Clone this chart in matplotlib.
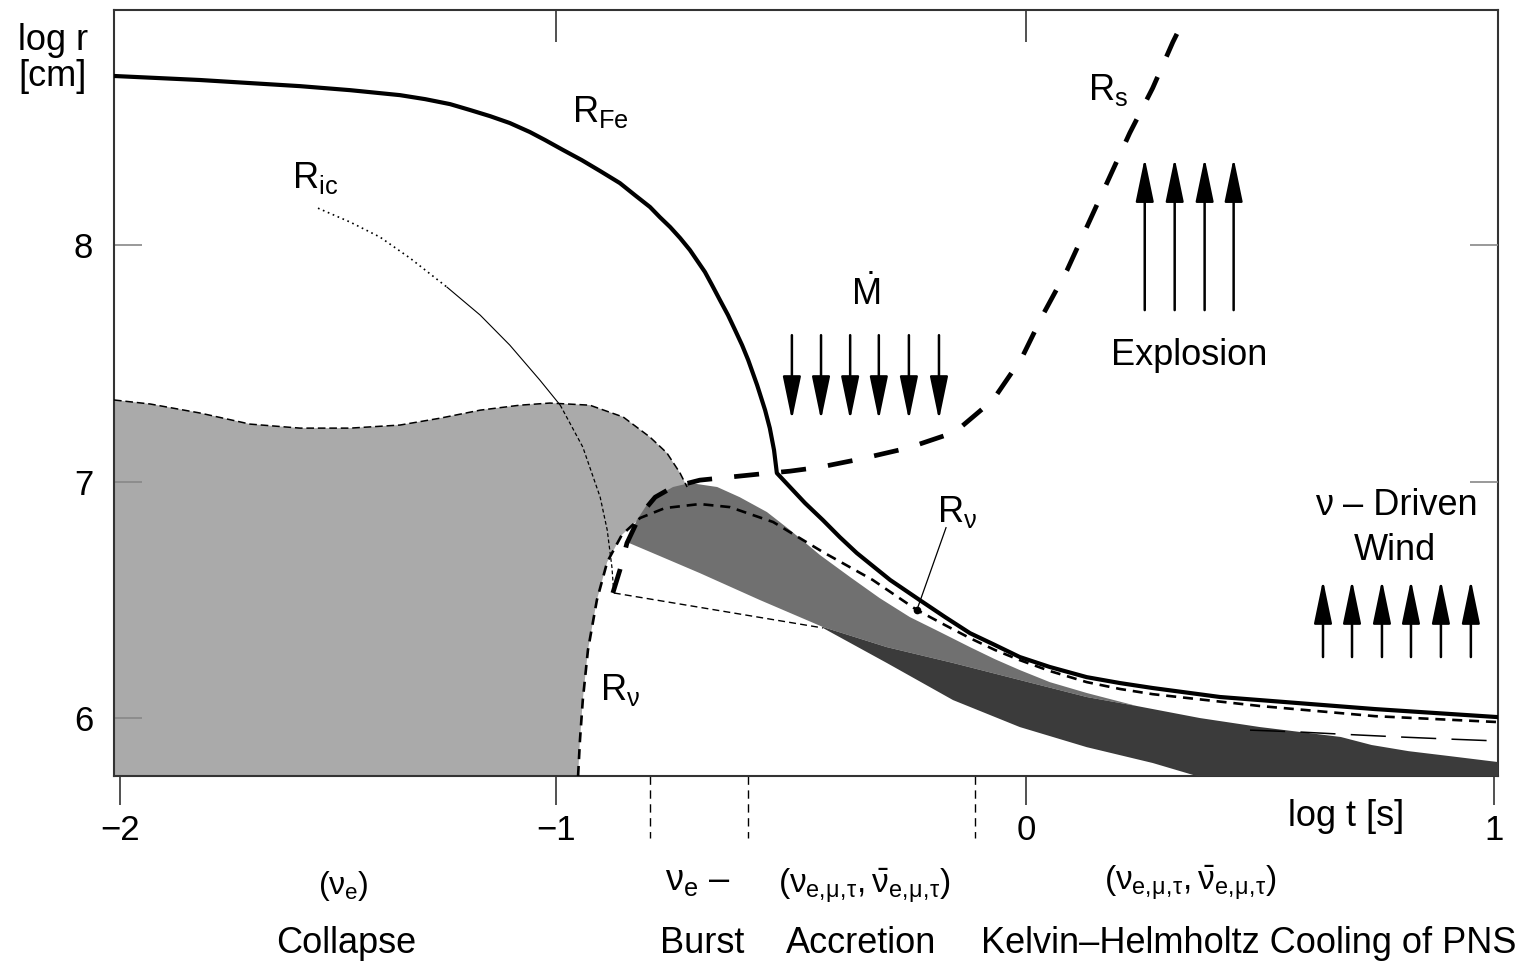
import numpy as np
import matplotlib
matplotlib.use("Agg")
import matplotlib.pyplot as plt
from matplotlib.transforms import blended_transform_factory

plt.rcParams['font.family'] = ['Liberation Sans', 'DejaVu Sans']
plt.rcParams['mathtext.fontset'] = 'custom'
plt.rcParams['mathtext.rm'] = 'Liberation Sans'
plt.rcParams['mathtext.it'] = 'Liberation Sans'
plt.rcParams['mathtext.bf'] = 'Liberation Sans:bold'
plt.rcParams['mathtext.sf'] = 'Liberation Sans'

# ---------------- data (log t [s], log r [cm]) ----------------
# iron core radius R_Fe
rfe_t = [-2.014, -1.817, -1.587, -1.472, -1.358, -1.300, -1.243, -1.197, -1.151, -1.106,
         -1.060, -1.025, -0.985, -0.945, -0.906, -0.864, -0.832, -0.800, -0.779, -0.757,
         -0.736, -0.715, -0.683, -0.668, -0.651, -0.634, -0.619, -0.604, -0.591, -0.572,
         -0.555, -0.545, -0.536, -0.530, -0.496, -0.470, -0.432, -0.396, -0.360, -0.289,
         -0.226, -0.172, -0.119, -0.066, -0.013, 0.051, 0.130, 0.201, 0.271, 0.415,
         0.500, 0.746, 1.009]
rfe_r = [8.715, 8.698, 8.672, 8.655, 8.634, 8.617, 8.596, 8.571, 8.545, 8.516,
         8.478, 8.444, 8.402, 8.359, 8.313, 8.262, 8.211, 8.161, 8.118, 8.076,
         8.030, 7.979, 7.886, 7.831, 7.767, 7.704, 7.641, 7.577, 7.514, 7.408,
         7.302, 7.226, 7.133, 7.036, 6.964, 6.909, 6.837, 6.765, 6.698, 6.584,
         6.499, 6.427, 6.359, 6.309, 6.258, 6.216, 6.173, 6.148, 6.127, 6.089,
         6.076, 6.038, 6.004]

# shock radius R_s
rs_t = [-0.879, -0.864, -0.849, -0.821, -0.789, -0.751, -0.694, -0.630, -0.566, -0.502,
        -0.438, -0.353, -0.251, -0.151, -0.070, -0.009, 0.036, 0.088, 0.137, 0.179,
        0.222, 0.271, 0.314, 0.332]
rs_r = [6.529, 6.626, 6.740, 6.858, 6.934, 6.977, 7.006, 7.019, 7.032, 7.044,
        7.061, 7.095, 7.142, 7.209, 7.345, 7.522, 7.704, 7.894, 8.106, 8.288,
        8.474, 8.664, 8.858, 8.930]

# neutrinosphere R_nu
rnu_t = [-0.953, -0.949, -0.943, -0.932, -0.913, -0.891, -0.860, -0.821, -0.768, -0.694,
         -0.630, -0.538, -0.432, -0.326, -0.232, -0.172, -0.119, -0.066, -0.013, 0.051,
         0.130, 0.201, 0.271, 0.500, 0.746, 1.009]
rnu_r = [5.755, 5.907, 6.076, 6.288, 6.499, 6.660, 6.774, 6.846, 6.888, 6.905,
         6.892, 6.829, 6.702, 6.584, 6.457, 6.393, 6.338, 6.288, 6.245, 6.199,
         6.152, 6.123, 6.101, 6.051, 6.008, 5.983]

# inner core radius R_ic
ric_t = [-1.546, -1.472, -1.404, -1.335, -1.250, -1.174, -1.106, -1.037, -0.991, -0.943,
         -0.906, -0.891, -0.881, -0.877]
ric_r = [8.156, 8.097, 8.034, 7.945, 7.822, 7.704, 7.577, 7.429, 7.323, 7.146,
         6.934, 6.795, 6.638, 6.529]

# thin dashed connection from R_ic end into the cooling band
trap_t = [-0.877, -0.432]
trap_r = [6.529, 6.381]

# upper edge of the light-grey (collapsing core) region
grey_t = [-2.014, -1.931, -1.817, -1.702, -1.587, -1.472, -1.358, -1.266, -1.174, -1.083,
          -1.014, -0.928, -0.857, -0.800, -0.764, -0.736, -0.721]
grey_r = [7.345, 7.328, 7.290, 7.243, 7.226, 7.226, 7.239, 7.268, 7.302, 7.323,
          7.332, 7.323, 7.273, 7.188, 7.121, 7.036, 6.977]

# upper edge of the (mid + dark) grey band
band_t = [-0.849, -0.828, -0.800, -0.751, -0.715, -0.657, -0.609, -0.551, -0.502, -0.438,
          -0.374, -0.311, -0.247, -0.183, -0.119, -0.066, -0.013, 0.051, 0.130, 0.237,
          0.372, 0.500, 0.673, 0.739, 0.818, 0.906, 1.009]
band_r = [6.744, 6.837, 6.922, 6.977, 6.994, 6.977, 6.934, 6.871, 6.795, 6.689,
          6.596, 6.507, 6.427, 6.364, 6.300, 6.249, 6.203, 6.152, 6.106, 6.051,
          6.000, 5.962, 5.920, 5.886, 5.860, 5.839, 5.814]

# lower edge of the mid-grey band (= upper edge of the dark band)
mid_lo_t = [-0.849, -0.779, -0.694, -0.566, -0.432, -0.296, -0.155, -0.013, 0.130, 0.237]
mid_lo_r = [6.744, 6.685, 6.613, 6.499, 6.385, 6.300, 6.233, 6.161, 6.089, 6.051]

# lower edge of the dark band
dark_lo_t = [-0.432, -0.296, -0.155, -0.013, 0.130, 0.271, 0.365, 1.009]
dark_lo_r = [6.381, 6.233, 6.076, 5.962, 5.877, 5.810, 5.755, 5.755]

# long-dashed line at late times
ldash_t = [0.479, 0.585, 0.673, 0.799, 0.906, 1.009]
ldash_r = [5.949, 5.941, 5.932, 5.920, 5.911, 5.903]

# R_nu label pointer (label end, point on curve)
ptr_t = [-0.170, -0.232]
ptr_r = [6.805, 6.457]

# arrows: (x positions, tail r, tip r)
mdot_x = [-0.498, -0.436, -0.374, -0.313, -0.249, -0.185]
mdot_tail, mdot_tip = 7.619, 7.260
expl_x = [0.254, 0.318, 0.382, 0.444]
expl_tail, expl_tip = 7.725, 8.368
wind_x = [0.635, 0.697, 0.761, 0.823, 0.887, 0.951]
wind_tail, wind_tip = 6.258, 6.584

# phase boundaries
phase_x = [-0.800, -0.591, -0.109]

x_ticks = [-2, -1, 0, 1]
x_ticklabels = ['\u22122', '\u22121', '0', '1']
y_ticks = [6, 7, 8]
top_ticks = [-1, 0]
right_ticks = [7, 8]

# ---------------- figure ----------------
W, H = 1530, 966
fig = plt.figure(figsize=(W / 100, H / 100), dpi=100)
ax = fig.add_axes([114 / W, 190 / H, 1384 / W, 766 / H])

# the original time axis is not perfectly uniform between decades
KT = [-3, -2, -1, 0, 1, 2]
KP = [-436, 0, 436, 906, 1374, 1842]


def fwd(t):
    return np.interp(t, KT, KP)


def inv(p):
    return np.interp(p, KP, KT)


ax.set_xscale('function', functions=(fwd, inv))
XL = (-2.014, 1.009)
YL = (5.755, 8.994)
ax.set_xlim(*XL)
ax.set_ylim(*YL)

LIGHT, MID, DARK = '#aaaaaa', '#707070', '#3b3b3b'
FLOOR = 5.5

grey_t_a, grey_r_a = np.array(grey_t), np.array(grey_r)
ax.fill(np.r_[grey_t_a, grey_t_a[-1], grey_t_a[0]], np.r_[grey_r_a, FLOOR, FLOOR],
        color=LIGHT, lw=0, zorder=1)

rnu_t_a, rnu_r_a = np.array(rnu_t), np.array(rnu_r)
ax.fill(np.r_[rnu_t_a[0], rnu_t_a, rnu_t_a[-1]], np.r_[FLOOR, rnu_r_a, FLOOR],
        color='white', lw=0, zorder=2)

band_t_a, band_r_a = np.array(band_t), np.array(band_r)
mlo_t, mlo_r = np.array(mid_lo_t), np.array(mid_lo_r)
m = band_t_a <= mlo_t[-1] + 1e-9
ax.fill(np.r_[band_t_a[m], mlo_t[::-1]], np.r_[band_r_a[m], mlo_r[::-1]],
        color=MID, lw=0, zorder=3)

dlo_t, dlo_r = np.array(dark_lo_t), np.array(dark_lo_r)
k = mlo_t >= dlo_t[0] - 1e-9
top_t = np.r_[mlo_t[k], band_t_a[~m]]
top_r = np.r_[mlo_r[k], band_r_a[~m]]
ax.fill(np.r_[top_t, dlo_t[::-1]], np.r_[top_r, dlo_r[::-1]],
        color=DARK, lw=0, zorder=4)

# lines
ax.plot(grey_t, grey_r, color='k', lw=1.1, ls=(0, (5, 2.5)), zorder=5)
ax.plot(ldash_t, ldash_r, color='k', lw=1.1, ls=(0, (23, 10)), zorder=5)
ax.plot(trap_t, trap_r, color='k', lw=1.0, ls=(0, (5, 3)), zorder=5)
ax.plot(ric_t[:5], ric_r[:5], color='k', lw=1.2, ls=(0, (1, 2.2)), zorder=5)
ax.plot(ric_t[4:9], ric_r[4:9], color='k', lw=0.8, zorder=5)
ax.plot(ric_t[8:], ric_r[8:], color='k', lw=0.9, ls=(0, (3, 2)), zorder=5)
ax.plot(rnu_t, rnu_r, color='k', lw=1.9, ls=(0, (3.8, 2.6)), zorder=6)
ax.plot(rfe_t, rfe_r, color='k', lw=3.0, solid_joinstyle='round', zorder=7)
ax.plot(rs_t, rs_r, color='k', lw=3.4, ls=(0, (5.3, 4.7)), zorder=7)
ax.plot(ptr_t, ptr_r, color='k', lw=0.9, zorder=8)
ax.plot(ptr_t[1:], ptr_r[1:], 'o', color='k', ms=4.5, zorder=8)

ARW = dict(arrowstyle='-|>,head_length=1.35,head_width=0.28', lw=1.8, color='k',
           mutation_scale=20, shrinkA=0, shrinkB=0)
for x in mdot_x:
    ax.annotate('', xy=(x, mdot_tip), xytext=(x, mdot_tail), arrowprops=ARW, zorder=9)
for x in expl_x:
    ax.annotate('', xy=(x, expl_tip), xytext=(x, expl_tail), arrowprops=ARW, zorder=9)
for x in wind_x:
    ax.annotate('', xy=(x, wind_tip), xytext=(x, wind_tail), arrowprops=ARW, zorder=9)

# phase boundaries below the axis
trans = blended_transform_factory(ax.transData, ax.transAxes)
for x in phase_x:
    ax.plot([x, x], [0, -0.081], transform=trans, clip_on=False, color='k',
            lw=1.0, ls=(0, (6, 4)))

# axes styling
for s in ax.spines.values():
    s.set_linewidth(1.5)
    s.set_color('#333333')
ax.set_xticks(x_ticks)
ax.set_xticklabels(x_ticklabels)
ax.set_yticks(y_ticks)
ax.tick_params(axis='x', direction='out', length=21, width=1.2, color='#333333',
               pad=6, labelsize=25)
ax.tick_params(axis='y', direction='in', length=20, width=1.2, color='#888888',
               pad=15, labelsize=25)

axt = ax.twiny()
axt.set_xscale('function', functions=(fwd, inv))
axt.set_xlim(*XL)
axt.set_xticks(top_ticks)
axt.tick_params(axis='x', direction='in', length=23, width=1.2, color='#333333',
                labeltop=False)
axr = ax.twinx()
axr.set_ylim(*YL)
axr.set_yticks(right_ticks)
axr.tick_params(axis='y', direction='in', length=20, width=1.2, color='#888888',
                labelright=False)
for a in (axt, axr):
    for s in a.spines.values():
        s.set_visible(False)
    a.patch.set_visible(False)


def ftxt(px, py, s, ha='center', va='baseline', size=26, **kw):
    fig.text(px / W, 1 - py / H, s, ha=ha, va=va, fontsize=size, **kw)


ftxt(18, 40, 'log r', ha='left', va='center')
ftxt(18, 77, '[cm]', ha='left', va='center')
ftxt(1346, 817, 'log t [s]', va='center')

ftxt(572, 122, r'$\mathrm{R}_{\mathrm{Fe}}$', ha='left')
ftxt(292, 188, r'$\mathrm{R}_{\mathrm{ic}}$', ha='left')
ftxt(1088, 100, r'$\mathrm{R}_{\mathrm{s}}$', ha='left')
ftxt(937, 522, r'$\mathrm{R}_{\nu}$', ha='left')
ftxt(600, 700, r'$\mathrm{R}_{\nu}$', ha='left')
ftxt(866, 305, r'$\dot{\mathrm{M}}$')
ftxt(1189, 365, 'Explosion')
ftxt(1396, 515, '\u03bd \u2013 Driven')
ftxt(1395, 560, 'Wind')

ftxt(343, 894, r'$(\nu_{\mathrm{e}})$', size=23)
ftxt(665, 890, r'$\nu_{\mathrm{e}}$' + ' \u2013', ha='left', size=26)
acc = r'$(\nu_{\mathrm{e},\!\mu,\!\tau},\bar{\nu}_{\mathrm{e},\!\mu,\!\tau})$'
ftxt(864, 894, acc, size=24)
ftxt(1190, 891, acc, size=24)

ftxt(346, 953, 'Collapse')
ftxt(702, 953, 'Burst')
ftxt(861, 953, 'Accretion')
ftxt(1249, 953, 'Kelvin\u2013Helmholtz Cooling of PNS')

fig.savefig('out.png', dpi=100)
